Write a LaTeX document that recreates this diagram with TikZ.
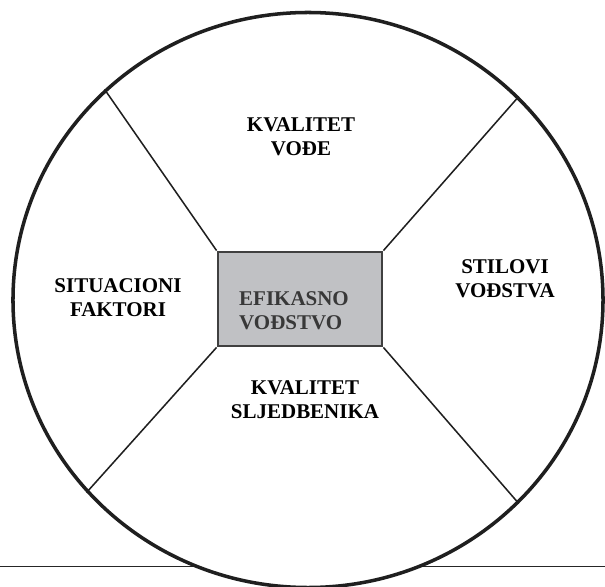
\documentclass[tikz,border=0pt]{standalone}
\usepackage{fontspec}
\setmainfont{Liberation Serif}
\usepackage{tikz}
\usetikzlibrary{shapes.geometric, positioning, calc}
\definecolor{coregray}{RGB}{192,193,196}

\begin{document}
\begin{tikzpicture}[
    x=0.03cm, y=-0.03cm,
    every node/.style={font=\fontsize{17.9}{20.6}\selectfont\bfseries},
    wheel/.style={ellipse, draw=black!88, line width=3pt, fill=white, minimum width=17.7cm, minimum height=17.25cm, inner sep=0pt},
    core/.style={rectangle, draw=black!75, line width=2.4pt, fill=coregray, minimum width=4.92cm, minimum height=2.82cm, inner sep=0pt},
    factor/.style={align=center, inner sep=0pt, text=black},
    spoke/.style={draw=black!88, line width=1.3pt},
    base/.style={draw=black!85, line width=0.8pt}
]
\useasboundingbox (0,0) rectangle (605,587);

% Linea base
\coordinate (l0) at (0,566.5);
\coordinate (l1) at (605,566.5);
\draw[base] (l0) -- (l1);

% Circulo y centro
\node[wheel] (wh) at (308,300) {};
\node[core] (ef) at (300,299) {};

% Radios
\draw[spoke] (ef.north west) -- (wh.134.4);
\draw[spoke] (ef.north east) -- (wh.44.7);
\draw[spoke] (ef.south west) -- (wh.221.9);
\draw[spoke] (ef.south east) -- (wh.316.2);

% Textos
\node[align=left, anchor=west, inner sep=0pt, text=black!78] (eft) at (239,310.5) {EFIKASNO\\VOĐSTVO};
\node[factor] (kv) at (301,137) {KVALITET\\VOĐE};
\node[factor] (sf) at (118,298) {SITUACIONI\\FAKTORI};
\node[factor] (st) at (505,278.5) {STILOVI\\VOĐSTVA};
\node[factor] (ks) at (305,400) {KVALITET\\SLJEDBENIKA};

\end{tikzpicture}
\end{document}
